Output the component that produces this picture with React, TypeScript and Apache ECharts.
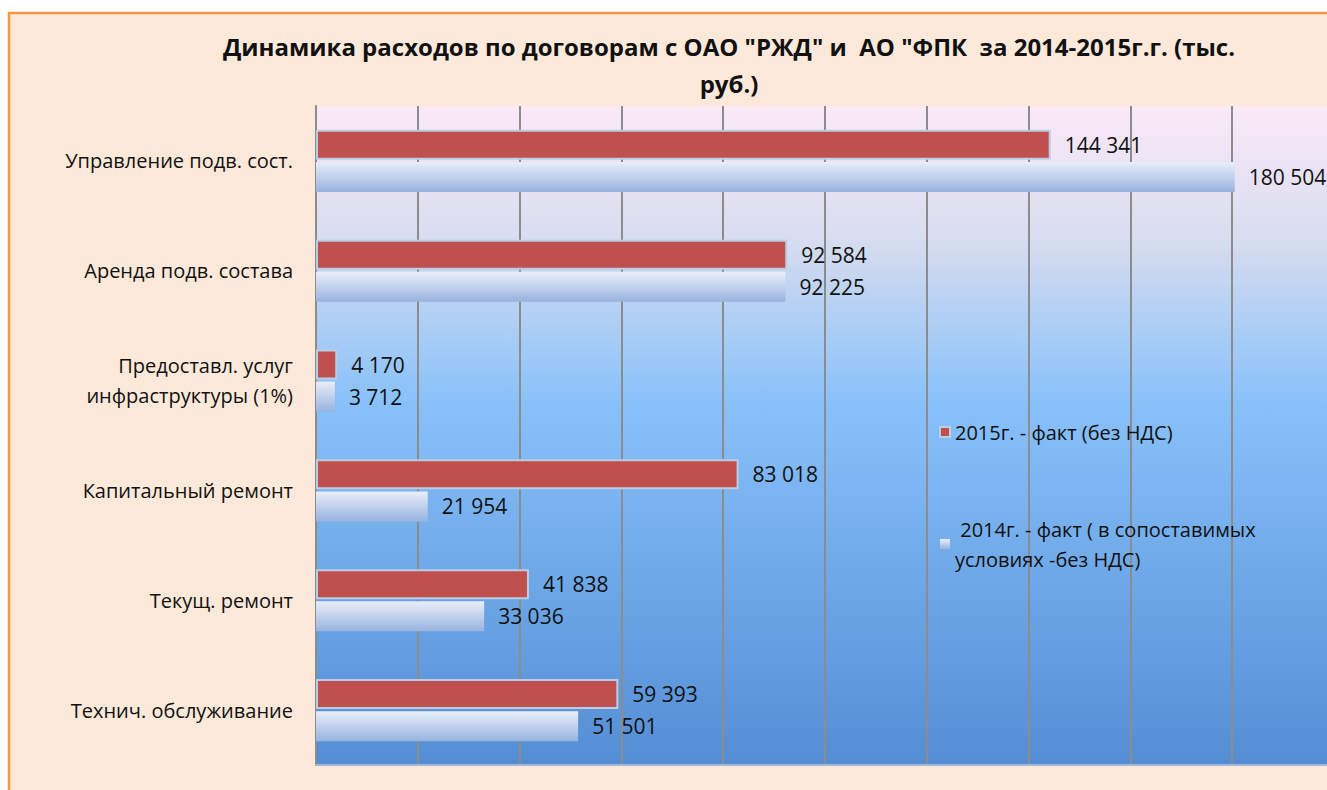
import React, { useEffect, useRef } from "react";
import * as echarts from "echarts";

const categories = [
  "Управление подв. сост.",
  "Аренда подв. состава",
  "Предоставл. услуг\nинфраструктуры (1%)",
  "Капитальный ремонт",
  "Текущ. ремонт",
  "Технич. обслуживание",
];
const values2015 = [144341, 92584, 4170, 83018, 41838, 59393];
const values2014 = [180504, 92225, 3712, 21954, 33036, 51501];
const seriesNames = [
  "2015г. - факт (без НДС)",
  " 2014г. - факт ( в сопоставимых\nусловиях -без НДС)",
];
const titleText =
  'Динамика расходов по договорам с ОАО "РЖД" и  АО "ФПК  за 2014-2015г.г. (тыс.\nруб.)';

const FONT = "Open Sans";

const fmt = (v: number) => String(v).replace(/\B(?=(\d{3})+(?!\d))/g, " ");

export default function App() {
  const ref = useRef<HTMLDivElement>(null);
  useEffect(() => {
    if (!ref.current) return;
    const chart = echarts.init(ref.current, null, { renderer: "svg" });
    const labelStyle = {
      show: true,
      position: "right",
      distance: 14,
      formatter: (p: any) => fmt(p.value),
      fontFamily: FONT,
      fontSize: 21,
      color: "#111",
    };
    const option: any = {
      animation: false,
      backgroundColor: "#ffffff",
      textStyle: { fontFamily: FONT },
      graphic: [
        {
          type: "rect",
          z: -10,
          silent: true,
          shape: { x: 9, y: 13, width: 1400, height: 800 },
          style: { fill: "#FDE9D9", stroke: "#F79646", lineWidth: 2.5 },
        },
      ],
      title: {
        text: titleText,
        left: 724,
        textAlign: "center",
        top: 23,
        textStyle: {
          fontFamily: FONT,
          fontSize: 24,
          fontWeight: "bold",
          color: "#111",
          lineHeight: 37,
        },
      },
      legend: {
        orient: "vertical",
        left: 934,
        top: 412,
        itemGap: 67,
        itemWidth: 10,
        itemHeight: 10,
        icon: "rect",
        textStyle: { fontFamily: FONT, fontSize: 20, color: "#111", lineHeight: 30 },
        data: seriesNames,
      },
      grid: {
        left: 316,
        top: 106,
        right: -7,
        bottom: 25,
        show: true,
        borderWidth: 0,
        outerBoundsMode: "none",
        backgroundColor: new echarts.graphic.LinearGradient(0, 0, 0, 1, [
          { offset: 0, color: "#FBE9F8" },
          { offset: 0.2, color: "#D8DDEF" },
          { offset: 0.45, color: "#88C1FA" },
          { offset: 1, color: "#548DD4" },
        ]),
      },
      xAxis: {
        type: "value",
        min: 0,
        max: 200000,
        interval: 20000,
        axisLabel: { show: false },
        axisTick: { show: false },
        axisLine: { show: true, lineStyle: { color: "#9DB9E0", width: 2 } },
        splitLine: { show: true, lineStyle: { color: "#8C8C8C", width: 2 } },
      },
      yAxis: {
        type: "category",
        inverse: true,
        data: categories,
        axisTick: { show: false },
        axisLine: { show: true, lineStyle: { color: "#8C8C8C", width: 2 } },
        axisLabel: {
          margin: 23,
          fontFamily: FONT,
          fontSize: 20,
          color: "#111",
          lineHeight: 30,
        },
        splitLine: { show: false },
      },
      series: [
        {
          name: seriesNames[0],
          type: "bar",
          data: values2015,
          barWidth: 30,
          barGap: "7%",
          itemStyle: { color: "#C0504D", borderColor: "#B9CDE5", borderWidth: 2 },
          label: labelStyle,
        },
        {
          name: seriesNames[1],
          type: "bar",
          data: values2014,
          barWidth: 30,
          itemStyle: {
            color: new echarts.graphic.LinearGradient(0, 0, 0, 1, [
              { offset: 0, color: "#EAEEF9" },
              { offset: 1, color: "#98B3E0" },
            ]),
          },
          label: labelStyle,
        },
      ],
    };
    chart.setOption(option);
    return () => chart.dispose();
  }, []);
  return (
    <div
      ref={ref}
      style={{ position: "fixed", left: 0, top: 0, width: 1327, height: 790 }}
    />
  );
}
